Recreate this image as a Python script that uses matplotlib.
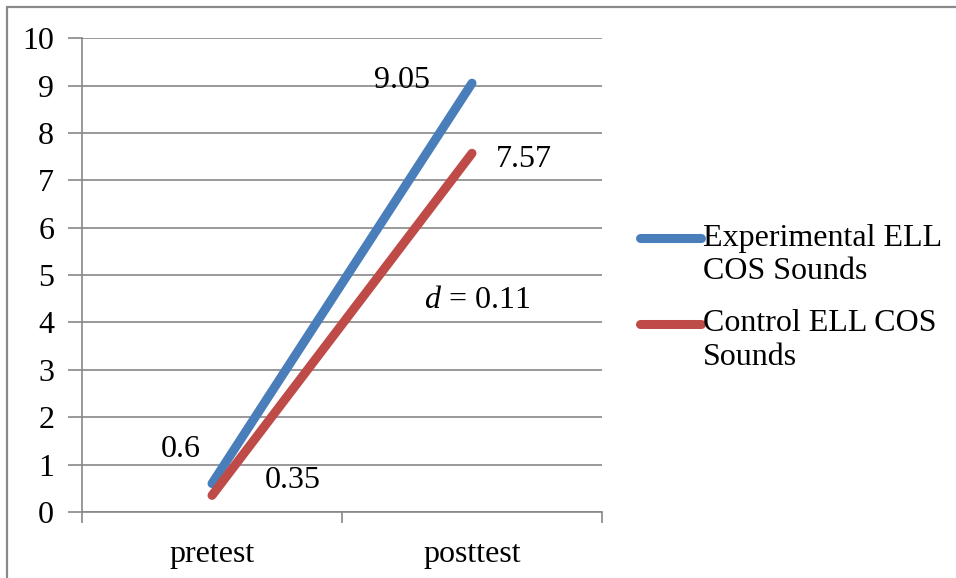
import matplotlib.pyplot as plt
from matplotlib.patches import Rectangle

# data
categories = ['pretest', 'posttest']
experimental = [0.6, 9.05]
control = [0.35, 7.57]
series_names = ['Experimental ELL\nCOS Sounds', 'Control ELL COS\nSounds']
effect_label = '$d$ = 0.11'

plt.rcParams['font.family'] = ['Liberation Serif', 'DejaVu Serif']
plt.rcParams['mathtext.fontset'] = 'custom'
plt.rcParams['mathtext.it'] = 'Liberation Serif:italic'
plt.rcParams['mathtext.rm'] = 'Liberation Serif'

fs = 23
fig = plt.figure(figsize=(9.56, 5.78), dpi=100)
ax = fig.add_axes([0.0858, 0.1142, 0.5439, 0.8198])

grid_col = '#878787'
blue = '#4A7EBB'
red = '#BE4B48'

x = list(range(len(categories)))
ax.plot(x, experimental, color=blue, lw=6.5, solid_capstyle='round', label=series_names[0], zorder=3)
ax.plot(x, control, color=red, lw=6.5, solid_capstyle='round', label=series_names[1], zorder=3)

ax.set_xlim(-0.5, 1.5)
ax.set_ylim(0, 10)
ax.set_yticks(range(0, 11))
ax.yaxis.grid(True, color=grid_col, lw=1.2)
ax.set_axisbelow(True)

ax.set_xticks(x)
ax.set_xticklabels(categories)
ax.set_xticks([-0.5, 0.5, 1.5], minor=True)
ax.tick_params(axis='x', which='major', length=0, pad=20, labelsize=fs)
ax.tick_params(axis='x', which='minor', length=8, color=grid_col, width=1.2)
ax.tick_params(axis='y', length=10, color=grid_col, width=1.2, labelsize=fs, pad=10)

for s in ['top', 'right']:
    ax.spines[s].set_visible(False)
for s in ['left', 'bottom']:
    ax.spines[s].set_color(grid_col)
    ax.spines[s].set_linewidth(1.2)

# value labels
ax.text(x[0] - 0.12, experimental[0] + 0.72, '0.6', fontsize=fs, ha='center', va='center')
ax.text(x[0] + 0.31, control[0] + 0.32, '0.35', fontsize=fs, ha='center', va='center')
ax.text(x[1] - 0.27, experimental[1] + 0.05, '9.05', fontsize=fs, ha='center', va='center')
ax.text(x[1] + 0.2, control[1] - 0.14, '7.57', fontsize=fs, ha='center', va='center')
ax.text(x[1] + 0.02, 4.47, effect_label, fontsize=fs, ha='center', va='center')

leg = fig.legend(loc='upper left', bbox_to_anchor=(640 / 956, 1 - 224 / 578), frameon=False,
                 fontsize=fs, handlelength=1.9, handletextpad=0.08,
                 labelspacing=0.72, borderaxespad=0, borderpad=0)
# Excel-style: the line marker sits next to the first text line
for h in leg.legend_handles:
    h.set_ydata([y + 12 for y in h.get_ydata()])
    h.set_solid_capstyle('round')

fig.patches.append(Rectangle((6.5 / 956, -0.05), 1.0, 1 - 7 / 578 + 0.05,
                             transform=fig.transFigure, fill=False,
                             edgecolor='#8a8a8a', lw=1.6))

fig.savefig('out.png', dpi=100)
